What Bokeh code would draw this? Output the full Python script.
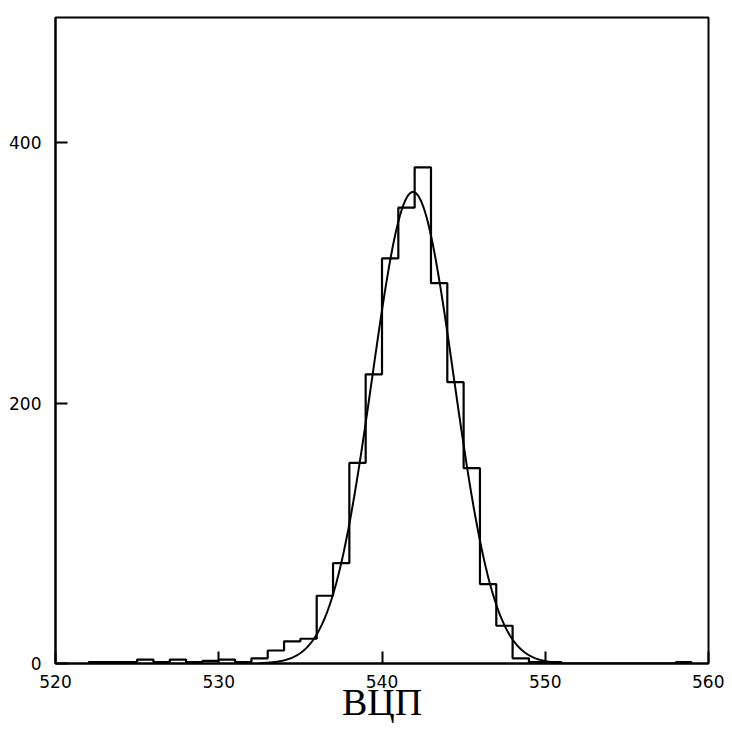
import numpy as np
from bokeh.plotting import figure
from bokeh.models import Range1d, FixedTicker
from bokeh.embed import file_html
from bokeh.resources import INLINE

# ---- data ----
bin_left_edges = list(range(522, 559))          # bins of width 1: 522-523 ... 558-559
bin_right_end = 559
counts = [1, 1, 1, 3, 1, 3, 1, 2, 3, 1,         # 522..531
          4, 10, 17, 19, 52, 77, 154, 222, 311, 350,   # 532..541
          381, 292, 216, 150, 61, 29, 4, 1, 1, 0,      # 542..551
          0, 0, 0, 0, 0, 0, 1]                          # 552..558

# Gaussian fit parameters (estimated from the drawn curve)
fit_mean = 541.9
fit_sigma = 2.5
fit_peak = 362
fit_x_start = 532.5
fit_x_end = 551.0

x_ticks = [520, 530, 540, 550, 560]
y_ticks = [0, 200, 400]
x_label = "ВЦП"

# ---- figure ----
p = figure(width=724, height=726, output_backend="svg", toolbar_location=None,
           x_range=Range1d(520, 560), y_range=Range1d(0, 496),
           min_border_left=55, min_border_right=16, min_border_top=17,
           min_border_bottom=63)
p.background_fill_color = "white"
p.border_fill_color = "white"
p.outline_line_color = "black"
p.outline_line_width = 2
p.xgrid.visible = False
p.ygrid.visible = False

# histogram as a step outline
step_x = bin_left_edges + [bin_right_end]
step_y = counts + [counts[-1]]
p.step(step_x, step_y, mode="after", line_color="black", line_width=2.2)

# fitted Gaussian curve
gx = np.linspace(fit_x_start, fit_x_end, 400)
gy = fit_peak * np.exp(-0.5 * ((gx - fit_mean) / fit_sigma) ** 2)
p.line(gx, gy, line_color="black", line_width=2)

for ax in (p.xaxis, p.yaxis):
    ax.axis_line_width = 2
    ax.axis_line_color = "black"
    ax.major_tick_in = 12
    ax.major_tick_out = 0
    ax.major_tick_line_width = 2
    ax.major_tick_line_color = "black"
    ax.minor_tick_line_color = None
    ax.major_label_text_font = "DejaVu Sans"
    ax.major_label_text_font_size = "17px"
    ax.major_label_text_color = "black"

p.xaxis.ticker = FixedTicker(ticks=x_ticks)
p.yaxis.ticker = FixedTicker(ticks=y_ticks)
p.xaxis.major_label_standoff = 11
p.yaxis.major_label_standoff = 14

p.xaxis.axis_label = x_label
p.xaxis.axis_label_text_font = "Liberation Serif"
p.xaxis.axis_label_text_font_style = "normal"
p.xaxis.axis_label_text_font_size = "38px"
p.xaxis.axis_label_text_color = "black"
p.xaxis.axis_label_standoff = -10

open("out.html", "w").write(file_html(p, INLINE))
